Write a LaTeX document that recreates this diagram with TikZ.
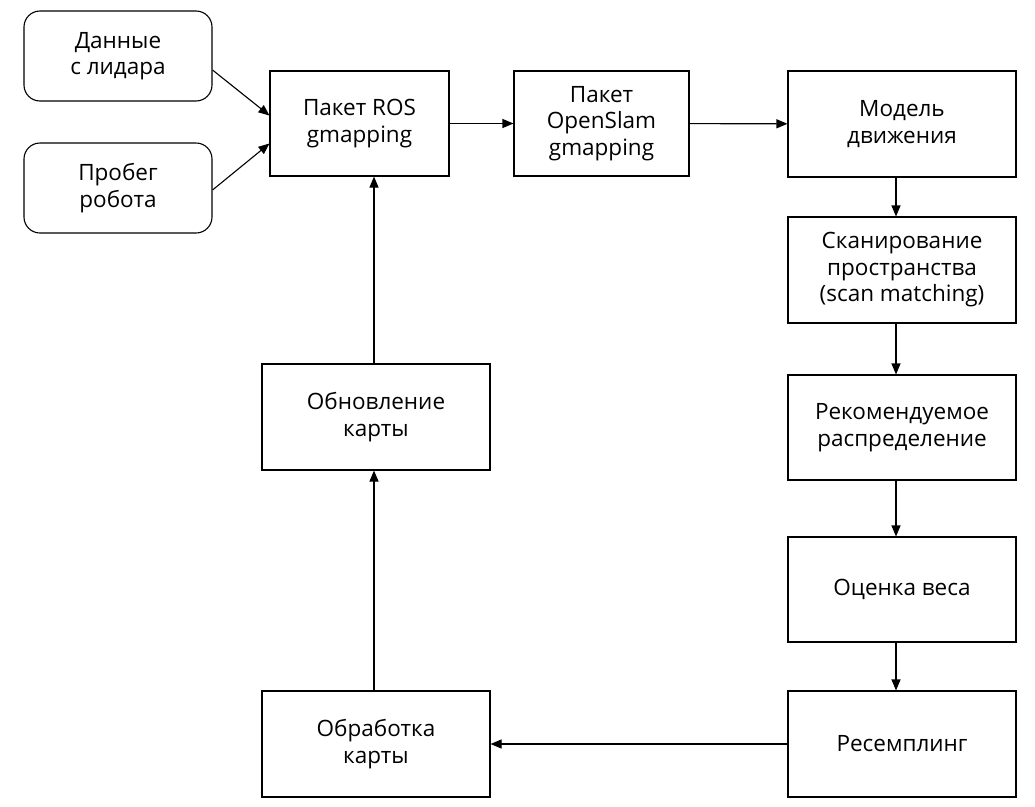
\documentclass[tikz,border=0pt]{standalone}
\usepackage{fontspec}
\setmainfont{Open Sans}
\usepackage{tikz}
\usetikzlibrary{arrows.meta,positioning,calc}

\begin{document}
\begin{tikzpicture}[x=1pt,y=-1pt,
    box/.style={draw, line width=1.1pt, align=center, inner sep=2pt,
        font=\fontsize{22.5}{26.5}\selectfont},
    srcbox/.style={box, rounded corners=16pt, minimum width=188pt, minimum height=90pt},
    flow/.style={-{Triangle[length=11pt,width=9pt]}, line width=1.1pt}]
        \useasboundingbox (0,0) rectangle (1035,806);

        % Inputs
        \node[srcbox] (lidar) at (118,56) {Данные\\с лидара};
        \node[srcbox] (odom) at (118,188) {Пробег\\робота};

        % Top row
        \node[box, minimum width=179pt, minimum height=105pt] (ros) at (359.5,123.5) {Пакет ROS\\gmapping};
        \node[box, minimum width=175pt, minimum height=105pt] (slam) at (601.5,123.5) {Пакет\\OpenSlam\\gmapping};

        % Right column
        \node[box, minimum width=228pt, minimum height=106pt] (motion) at (902,124) {Модель\\движения};
        \node[box, minimum width=228pt, minimum height=106pt] (scan) at (902,270) {Сканирование\\пространства\\(scan matching)};
        \node[box, minimum width=228pt, minimum height=105pt] (proposal) at (902,427.5) {Рекомендуемое\\распределение};
        \node[box, minimum width=228pt, minimum height=105pt] (weight) at (902,589.5) {Оценка веса};
        \node[box, minimum width=228pt, minimum height=106pt] (resample) at (902,744) {Ресемплинг};

        % Left column
        \node[box, minimum width=228pt, minimum height=106pt] (mapproc) at (376,744) {Обработка\\карты};
        \node[box, minimum width=228pt, minimum height=106pt] (mapupd) at (376,417) {Обновление\\карты};

        % Arrows
        \draw[flow] ([yshift=-14pt]lidar.east) -- ([yshift=8pt]ros.west);
        \draw[flow] ([yshift=-2pt]odom.east) -- ([yshift=-20pt]ros.west);
        \draw[flow] (ros) -- (slam);
        \draw[flow] (slam) -- (motion);
        \draw[flow] ([xshift=-6pt]motion.south) -- ([xshift=-6pt]scan.north);
        \draw[flow] ([xshift=-6pt]scan.south) -- ([xshift=-6pt]proposal.north);
        \draw[flow] ([xshift=-6pt]proposal.south) -- ([xshift=-6pt]weight.north);
        \draw[flow] ([xshift=-6pt]weight.south) -- ([xshift=-6pt]resample.north);
        \draw[flow] (resample) -- (mapproc);
        \draw[flow] ([xshift=-2pt]mapproc.north) -- ([xshift=-2pt]mapupd.south);
        \draw[flow] ([xshift=-2pt]mapupd.north) -- ([xshift=-2pt]mapupd.north |- ros.south);
    \end{tikzpicture}
\end{document}
